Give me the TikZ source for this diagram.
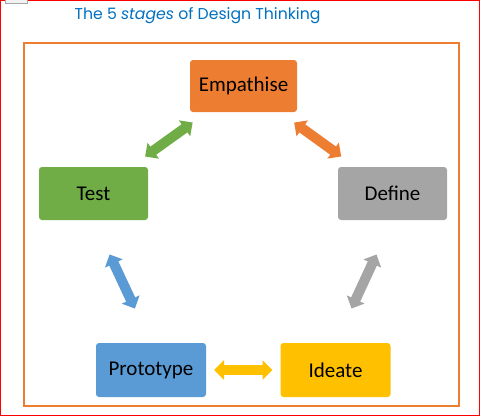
\documentclass[tikz,border=0pt]{standalone}
\usepackage{fontspec}
\setmainfont{Carlito}
\newfontfamily\titlefont{Poppins}
\usetikzlibrary{arrows.meta}
\definecolor{empcol}{HTML}{ED7D31}
\definecolor{testcol}{HTML}{70AD47}
\definecolor{defcol}{HTML}{A5A5A5}
\definecolor{protcol}{HTML}{5B9BD5}
\definecolor{ideacol}{HTML}{FFC000}
\definecolor{titlecol}{HTML}{0070C0}
\tikzset{
  stage/.style={rectangle, rounded corners=3pt, minimum width=109pt, minimum height=53pt,
    outer sep=0pt, font=\fontsize{21}{25}\selectfont},
  link/.style={line width=10pt, {Triangle[length=10pt,width=19pt]}-{Triangle[length=10pt,width=19pt]}}
}
\begin{document}
\begin{tikzpicture}[x=1pt,y=-1pt]
\useasboundingbox (0,0) rectangle (480,416);
\draw[red, line width=1.2pt] (0.6,0.6) rectangle (479.4,415.4);
\draw[gray!70, fill=gray!10, line width=0.6pt] (5,-2) rectangle (27,3);
\node[anchor=west, text=titlecol, font=\titlefont\fontsize{15.7}{19}\selectfont] (title) at (71,16)
  {The 5 \textit{stages} of Design Thinking};
\draw[empcol, line width=2pt] (24,43) rectangle (459,406);
\node[stage, fill=empcol, minimum width=107pt, minimum height=52pt] (empathise) at (243.5,86) {Empathise};
\node[stage, fill=testcol] (test) at (93.5,193.5) {Test};
\node[stage, fill=defcol] (define) at (392.5,193.5) {Define};
\node[stage, fill=protcol, minimum width=110pt, minimum height=54pt] (prototype) at (151,370) {Prototype};
\node[stage, fill=ideacol, minimum width=110pt, minimum height=54pt] (ideate) at (335.5,370) {Ideate};
\draw[link, testcol, shorten <=18pt, shorten >=18pt] (test) -- (empathise);
\draw[link, empcol, shorten <=18pt, shorten >=18pt] (empathise) -- (define);
\draw[link, defcol, shorten <=38pt, shorten >=38pt] (define.south) -- (ideate.north);
\draw[link, protcol, shorten <=38pt, shorten >=38pt] (test.south) -- (prototype.north);
\draw[link, ideacol, shorten <=8pt, shorten >=8pt] (prototype) -- (ideate);
\end{tikzpicture}
\end{document}
